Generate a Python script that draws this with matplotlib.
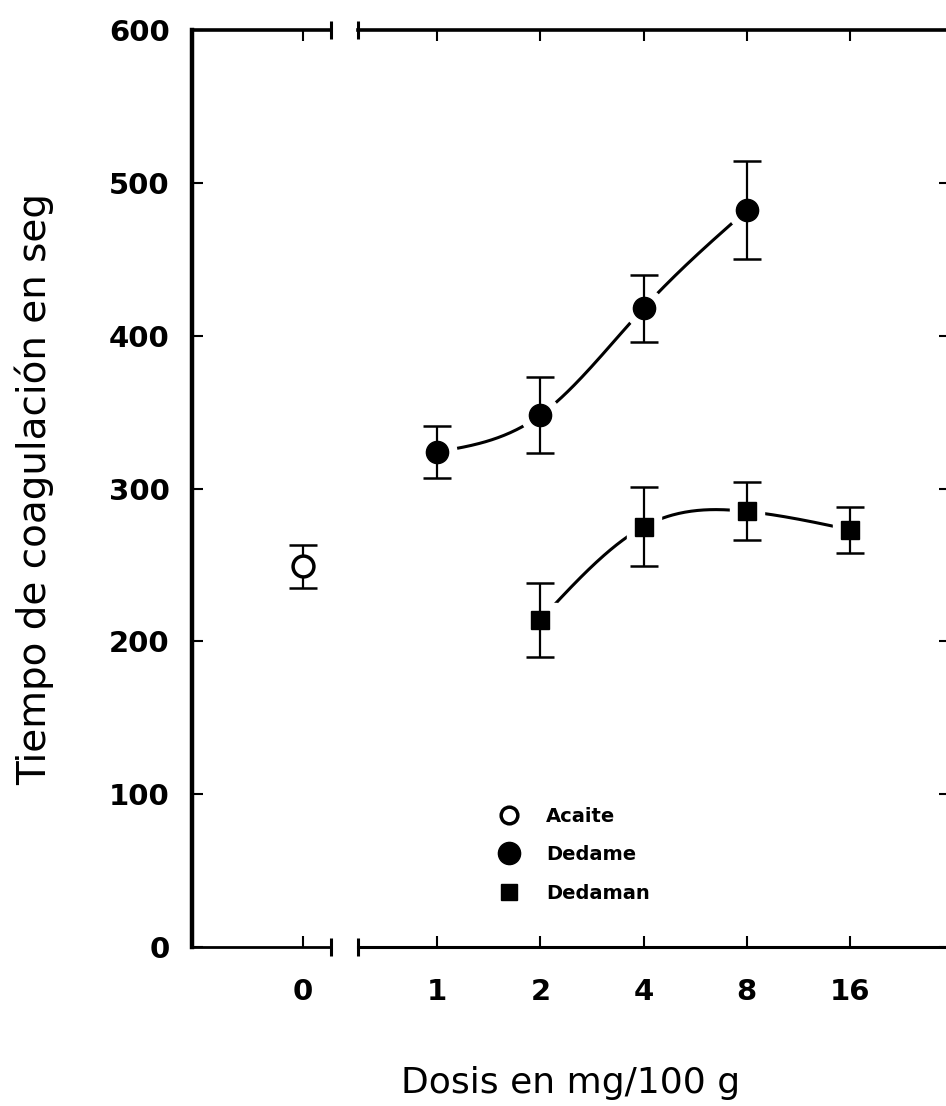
import numpy as np
import matplotlib
matplotlib.use("Agg")
import matplotlib.pyplot as plt
from matplotlib.lines import Line2D

# ---------------- data ----------------
dose_labels = ["1", "2", "4", "8", "16"]
aceite_y = [249]
aceite_err = [14]

dedame_dose = ["1", "2", "4", "8"]
dedame_y = [324, 348, 418, 482]
dedame_err = [17, 25, 22, 32]

dedaman_dose = ["2", "4", "8", "16"]
dedaman_y = [214, 275, 285, 273]
dedaman_err = [24, 26, 19, 15]

yticks = [0, 100, 200, 300, 400, 500, 600]


def natural_spline(x, y, n=200):
    x = np.asarray(x, float)
    y = np.asarray(y, float)
    k = len(x)
    h = np.diff(x)
    A = np.zeros((k, k))
    b = np.zeros(k)
    A[0, 0] = 1
    A[-1, -1] = 1
    for i in range(1, k - 1):
        A[i, i - 1] = h[i - 1]
        A[i, i] = 2 * (h[i - 1] + h[i])
        A[i, i + 1] = h[i]
        b[i] = 6 * ((y[i + 1] - y[i]) / h[i] - (y[i] - y[i - 1]) / h[i - 1])
    M = np.linalg.solve(A, b)
    xs = np.linspace(x[0], x[-1], n)
    ys = np.empty_like(xs)
    for j, xv in enumerate(xs):
        i = min(np.searchsorted(x, xv, side="right") - 1, k - 2)
        t1 = x[i + 1] - xv
        t0 = xv - x[i]
        ys[j] = (M[i] * t1 ** 3 / (6 * h[i]) + M[i + 1] * t0 ** 3 / (6 * h[i])
                 + (y[i] / h[i] - M[i] * h[i] / 6) * t1
                 + (y[i + 1] / h[i] - M[i + 1] * h[i] / 6) * t0)
    return xs, ys


W, H = 946, 1106
fig = plt.figure(figsize=(W / 100, H / 100), dpi=100)

bottom = (H - 947) / H
height = 917 / H
axL = fig.add_axes([192 / W, bottom, (331 - 192) / W, height])
axR = fig.add_axes([358 / W, bottom, (950 - 358) / W, height])

pos = {lab: i for i, lab in enumerate(dose_labels)}

tick_font = dict(family="DejaVu Sans", weight="bold", size=21)

for ax in (axL, axR):
    ax.set_ylim(0, 600)
    ax.set_facecolor("none")
    for s in ax.spines.values():
        s.set_color("black")

# left axis
axL.set_xlim(-1.078, 0.272)
axL.spines["right"].set_visible(False)
axL.spines["left"].set_linewidth(3.2)
axL.spines["top"].set_linewidth(2.6)
axL.spines["bottom"].set_linewidth(2.0)
axL.set_yticks(yticks)
axL.set_xticks([0])
axL.set_xticklabels(["0"])
axL.tick_params(axis="y", direction="in", length=8, width=1.5, pad=16, left=True, right=False)
axL.tick_params(axis="x", direction="in", length=8, width=1.5, pad=22, top=True, bottom=True)
for lab in axL.get_xticklabels() + axL.get_yticklabels():
    lab.set_fontproperties(matplotlib.font_manager.FontProperties(**tick_font))

# right axis
axR.set_xlim(-0.767, 4.97)
axR.spines["left"].set_visible(False)
axR.spines["right"].set_linewidth(2.5)
axR.spines["top"].set_linewidth(2.6)
axR.spines["bottom"].set_linewidth(2.2)
axR.set_yticks(yticks)
axR.tick_params(axis="y", direction="in", length=8, width=1.5, left=False, right=True,
                labelleft=False, labelright=False)
axR.set_xticks(range(len(dose_labels)))
axR.set_xticklabels(dose_labels)
axR.tick_params(axis="x", direction="in", length=8, width=1.5, pad=22, top=True, bottom=True)
for lab in axR.get_xticklabels():
    lab.set_fontproperties(matplotlib.font_manager.FontProperties(**tick_font))

# break caps
axL.plot([1, 1], [0, 1], transform=axL.transAxes, ls="none", marker="|",
         ms=13, mew=2.2, color="black", clip_on=False)
axR.plot([0, 0], [0, 1], transform=axR.transAxes, ls="none", marker="|",
         ms=13, mew=2.2, color="black", clip_on=False)

# Aceite
axL.plot([0], aceite_y, ls="none", marker="o", ms=24, mfc="white", mec="white", zorder=2)
axL.errorbar([0], aceite_y, yerr=aceite_err, fmt="none", ecolor="black",
             elinewidth=1.6, capsize=10, capthick=1.8, zorder=3)
hA, = axL.plot([0], aceite_y, ls="none", marker="o", ms=15, mfc="white", mec="black",
               mew=2.5, zorder=4, label="Acaite")

# Dedame
xd = [pos[d] for d in dedame_dose]
sx, sy = natural_spline(xd, dedame_y)
axR.plot(sx, sy, color="black", lw=2.2, zorder=1, solid_capstyle="butt")
axR.plot(xd, dedame_y, ls="none", marker="o", ms=28, mfc="white", mec="white", zorder=2)
axR.errorbar(xd, dedame_y, yerr=dedame_err, fmt="none", ecolor="black",
             elinewidth=1.6, capsize=10, capthick=1.8, zorder=3)
hD, = axR.plot(xd, dedame_y, ls="none", marker="o", ms=16, mfc="black", mec="black",
               zorder=4, label="Dedame")

# Dedaman
xm = [pos[d] for d in dedaman_dose]
sx, sy = natural_spline(xm, dedaman_y)
axR.plot(sx, sy, color="black", lw=2.2, zorder=1, solid_capstyle="butt")
axR.plot(xm, dedaman_y, ls="none", marker="s", ms=24, mfc="white", mec="white", zorder=2)
axR.errorbar(xm, dedaman_y, yerr=dedaman_err, fmt="none", ecolor="black",
             elinewidth=1.6, capsize=10, capthick=1.8, zorder=3)
hM, = axR.plot(xm, dedaman_y, ls="none", marker="s", ms=13, mfc="black", mec="black",
               zorder=4, label="Dedaman")

# legend
hA_l = Line2D([], [], ls="none", marker="o", ms=12, mfc="white", mec="black", mew=2.5)
hD_l = Line2D([], [], ls="none", marker="o", ms=16, mfc="black", mec="black")
hM_l = Line2D([], [], ls="none", marker="s", ms=12, mfc="black", mec="black")
leg = axR.legend([hA_l, hD_l, hM_l], ["Acaite", "Dedame", "Dedaman"],
                 loc="upper left", bbox_to_anchor=(488 / W, (H - 797) / H),
                 bbox_transform=fig.transFigure, frameon=False,
                 prop=dict(family="DejaVu Sans", weight="bold", size=14),
                 handlelength=1.2, handletextpad=1.3, labelspacing=1.0, borderpad=0)

# axis labels
fig.text(34 / W, 1 - 489 / H, "Tiempo de coagulación en seg", rotation=90,
         ha="center", va="center", family="DejaVu Sans", size=28)
fig.text(571 / W, 1 - 1083 / H, "Dosis en mg/100 g", ha="center", va="center",
         family="DejaVu Sans", size=26)

fig.savefig("out.png", dpi=100)
